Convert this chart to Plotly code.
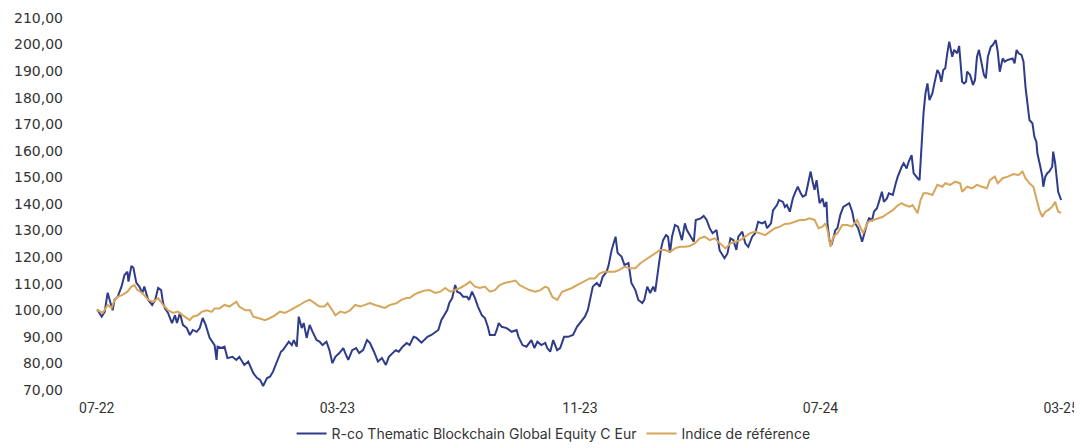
import plotly.graph_objects as go

fund_dates = [
"2022-07-01","2022-07-02","2022-07-06","2022-07-09","2022-07-12","2022-07-15","2022-07-17","2022-07-19","2022-07-22","2022-07-26","2022-07-29",
"2022-08-01","2022-08-02","2022-08-05","2022-08-07","2022-08-10","2022-08-13","2022-08-16","2022-08-18","2022-08-22","2022-08-26","2022-08-29",
"2022-09-01","2022-09-04","2022-09-06","2022-09-08","2022-09-11","2022-09-15","2022-09-18","2022-09-20","2022-09-23","2022-09-26","2022-09-30",
"2022-10-03","2022-10-06","2022-10-10","2022-10-13","2022-10-16","2022-10-19","2022-10-23","2022-10-28","2022-10-30","2022-10-31",
"2022-11-04","2022-11-07","2022-11-10","2022-11-15","2022-11-19","2022-11-22","2022-11-27",
"2022-12-01","2022-12-06","2022-12-10","2022-12-13","2022-12-16","2022-12-20","2022-12-23","2022-12-26","2022-12-28","2022-12-31",
"2023-01-03","2023-01-05","2023-01-09","2023-01-11","2023-01-14","2023-01-16","2023-01-19","2023-01-21","2023-01-24","2023-01-26","2023-01-29",
"2023-02-01","2023-02-04","2023-02-08","2023-02-11","2023-02-14","2023-02-18","2023-02-21","2023-02-24","2023-02-27",
"2023-03-03","2023-03-07","2023-03-09","2023-03-12","2023-03-16","2023-03-20","2023-03-23","2023-03-27","2023-03-31",
"2023-04-03","2023-04-07","2023-04-11","2023-04-15","2023-04-19","2023-04-22","2023-04-26","2023-04-29",
"2023-05-02","2023-05-06","2023-05-10","2023-05-13","2023-05-17","2023-05-20","2023-05-25","2023-05-28","2023-05-31",
"2023-06-04","2023-06-08","2023-06-11","2023-06-14","2023-06-16","2023-06-20","2023-06-22","2023-06-25","2023-06-28","2023-06-30",
"2023-07-03","2023-07-06","2023-07-10","2023-07-12","2023-07-15","2023-07-18","2023-07-21","2023-07-25","2023-07-28","2023-07-31",
"2023-08-02","2023-08-07","2023-08-09","2023-08-11","2023-08-14","2023-08-19","2023-08-24","2023-08-29","2023-08-31",
"2023-09-04","2023-09-08","2023-09-13","2023-09-16","2023-09-19","2023-09-23","2023-09-27","2023-09-29",
"2023-10-02","2023-10-05","2023-10-09","2023-10-12","2023-10-16","2023-10-20","2023-10-25","2023-10-29",
"2023-11-01","2023-11-06","2023-11-09","2023-11-12","2023-11-14","2023-11-18","2023-11-21","2023-11-24","2023-11-28","2023-11-30",
"2023-12-03","2023-12-07","2023-12-09","2023-12-13","2023-12-16","2023-12-20","2023-12-23","2023-12-27","2023-12-30",
"2024-01-03","2024-01-05","2024-01-08","2024-01-11","2024-01-14","2024-01-16","2024-01-19","2024-01-22","2024-01-24","2024-01-27","2024-01-29","2024-01-31",
"2024-02-02","2024-02-05","2024-02-08","2024-02-11","2024-02-12","2024-02-15","2024-02-17","2024-02-21","2024-02-24","2024-02-26",
"2024-03-02","2024-03-05","2024-03-08","2024-03-11","2024-03-14","2024-03-18","2024-03-21","2024-03-26","2024-03-29",
"2024-04-01","2024-04-04","2024-04-07","2024-04-09","2024-04-13","2024-04-16","2024-04-19","2024-04-23","2024-04-26","2024-04-29",
"2024-05-03","2024-05-06","2024-05-08","2024-05-12","2024-05-14","2024-05-18","2024-05-20","2024-05-24","2024-05-26","2024-05-28","2024-05-31",
"2024-06-03","2024-06-05","2024-06-08","2024-06-11","2024-06-13","2024-06-16","2024-06-18","2024-06-21","2024-06-23","2024-06-25","2024-06-27","2024-06-30",
"2024-07-03","2024-07-05","2024-07-07","2024-07-08","2024-07-10","2024-07-12","2024-07-14","2024-07-16","2024-07-18","2024-07-21","2024-07-24","2024-07-27","2024-07-30",
"2024-08-02","2024-08-04","2024-08-06","2024-08-08","2024-08-12","2024-08-14","2024-08-17","2024-08-19","2024-08-22","2024-08-24","2024-08-27","2024-08-29",
"2024-09-01","2024-09-03","2024-09-06","2024-09-08","2024-09-12","2024-09-15","2024-09-17","2024-09-21","2024-09-23","2024-09-26","2024-09-28",
"2024-10-01","2024-10-03","2024-10-07","2024-10-09","2024-10-11","2024-10-13","2024-10-15","2024-10-17","2024-10-19","2024-10-22","2024-10-24","2024-10-27","2024-10-29","2024-10-31",
"2024-11-02","2024-11-04","2024-11-06","2024-11-08","2024-11-11","2024-11-13","2024-11-16","2024-11-18","2024-11-21","2024-11-23","2024-11-25","2024-11-26","2024-11-29",
"2024-12-02","2024-12-04","2024-12-06","2024-12-08","2024-12-11","2024-12-13","2024-12-15","2024-12-17","2024-12-20","2024-12-22","2024-12-25","2024-12-27","2024-12-29",
"2025-01-01","2025-01-03","2025-01-06","2025-01-11","2025-01-13","2025-01-15","2025-01-17","2025-01-20","2025-01-22","2025-01-24","2025-01-26","2025-01-28","2025-01-31",
"2025-02-02","2025-02-04","2025-02-05","2025-02-08","2025-02-10","2025-02-11","2025-02-13","2025-02-15","2025-02-17","2025-02-20","2025-02-21","2025-02-23","2025-02-25","2025-02-26",
"2025-03-01",
]
fund_values = [
100.0,100.0,97.6,99.4,106.6,102.7,100.0,104.0,105.0,108.9,113.3,
114.5,110.8,116.7,116.0,110.3,108.9,106.5,108.9,103.9,102.0,103.9,
108.4,107.6,102.7,100.7,99.0,95.2,98.1,95.2,99.0,94.5,93.3,
90.7,92.6,91.9,93.3,97.1,94.5,89.6,86.9,81.3,86.3,
85.8,86.3,82.0,82.5,81.3,82.5,79.4,
80.7,76.4,74.5,73.8,71.5,74.5,75.0,76.9,78.8,82.0,
84.4,85.0,86.9,88.2,86.9,88.8,86.3,97.6,93.3,95.2,89.6,
94.5,91.9,88.8,88.2,86.9,88.2,85.0,80.1,82.5,
83.9,85.8,83.9,81.3,85.0,85.8,83.9,85.0,88.8,
87.7,84.4,80.7,82.0,79.4,82.5,83.9,85.0,
84.4,86.3,87.7,86.9,90.0,89.6,87.8,88.8,90.0,
90.7,91.9,92.6,96.3,97.6,100.1,102.7,104.6,109.5,107.0,
106.5,105.1,105.1,103.9,107.0,104.6,101.4,98.1,97.1,93.8,
90.7,90.7,92.6,95.2,93.8,93.3,91.9,92.6,90.0,
86.9,86.3,88.8,85.8,88.2,86.9,87.7,85.8,
84.4,88.8,85.0,85.8,90.0,90.0,90.7,93.8,
95.2,97.6,100.1,105.1,108.9,110.3,108.9,112.6,114.5,117.0,
122.6,127.7,121.6,120.2,117.0,117.8,110.3,107.6,103.9,
102.7,103.9,108.9,106.5,108.9,107.0,115.2,123.3,126.4,128.3,127.7,121.6,
127.7,132.1,131.5,127.7,126.4,132.7,130.2,127.7,125.8,134.0,
134.6,135.5,134.0,130.9,129.0,130.2,122.6,119.6,121.4,
127.1,126.4,122.7,127.7,129.6,125.2,123.9,127.7,129.0,133.3,
132.7,133.3,130.9,132.7,137.6,139.6,141.5,140.8,138.9,139.6,137.1,
142.1,144.0,146.5,144.0,142.8,143.4,146.5,152.2,148.4,145.3,149.0,140.3,
142.1,138.9,140.8,132.7,126.4,124.6,127.1,130.2,130.9,135.9,138.9,139.6,140.3,
137.1,133.3,132.1,130.9,125.8,129.0,132.7,134.6,133.9,137.1,138.4,140.8,
144.6,140.8,142.1,144.0,143.4,147.8,150.3,154.0,155.3,153.4,155.9,
158.4,151.6,149.7,149.0,161.6,174.1,181.7,185.4,179.1,181.7,185.4,190.4,189.2,186.0,
190.4,191.1,196.7,201.1,195.4,198.0,196.7,199.5,186.0,185.4,186.0,189.8,188.6,
184.8,186.7,195.4,198.0,191.7,188.6,187.3,195.4,199.2,199.8,201.7,197.3,189.8,
194.8,193.6,194.2,194.8,192.9,198.0,196.7,196.1,193.6,184.1,176.6,171.6,170.4,
165.3,163.4,159.1,154.0,150.3,146.5,150.3,151.6,152.2,154.0,159.7,155.3,149.0,144.6,
141.5,
]

index_dates = [
"2022-07-01","2022-07-02","2022-07-07","2022-07-12","2022-07-16","2022-07-19","2022-07-22","2022-07-27",
"2022-08-01","2022-08-05","2022-08-08","2022-08-11","2022-08-16","2022-08-22","2022-08-27",
"2022-09-01","2022-09-06","2022-09-11","2022-09-16","2022-09-21","2022-09-26",
"2022-10-03","2022-10-06","2022-10-11","2022-10-15","2022-10-20","2022-10-25","2022-10-28",
"2022-11-02","2022-11-07","2022-11-12","2022-11-19","2022-11-22","2022-11-28",
"2022-12-03","2022-12-06","2022-12-11","2022-12-18","2022-12-23","2022-12-28",
"2023-01-02","2023-01-07","2023-01-12","2023-01-17","2023-01-22","2023-01-27",
"2023-02-01","2023-02-06","2023-02-11","2023-02-16","2023-02-19","2023-02-24","2023-02-27",
"2023-03-04","2023-03-09","2023-03-14","2023-03-19","2023-03-24","2023-03-29",
"2023-04-03","2023-04-08","2023-04-13","2023-04-18","2023-04-23","2023-04-30",
"2023-05-05","2023-05-10","2023-05-13","2023-05-18","2023-05-23","2023-05-28",
"2023-06-02","2023-06-08","2023-06-13","2023-06-18","2023-06-23","2023-06-28",
"2023-07-03","2023-07-08","2023-07-13","2023-07-18","2023-07-23","2023-07-28",
"2023-08-02","2023-08-07","2023-08-12","2023-08-17","2023-08-22","2023-08-28",
"2023-09-01","2023-09-06","2023-09-11","2023-09-17","2023-09-22","2023-09-27","2023-09-30",
"2023-10-04","2023-10-09","2023-10-14","2023-10-19","2023-10-24","2023-10-29",
"2023-11-01","2023-11-06","2023-11-11","2023-11-16","2023-11-21","2023-11-26",
"2023-12-01","2023-12-06","2023-12-11","2023-12-16","2023-12-22","2023-12-27",
"2024-01-01","2024-01-06","2024-01-11","2024-01-16","2024-01-21","2024-01-26","2024-01-31",
"2024-02-05","2024-02-10","2024-02-15","2024-02-20","2024-02-25",
"2024-03-01","2024-03-06","2024-03-11","2024-03-16","2024-03-21","2024-03-27",
"2024-04-01","2024-04-06","2024-04-11","2024-04-16","2024-04-21","2024-04-26",
"2024-05-01","2024-05-06","2024-05-11","2024-05-16","2024-05-21","2024-05-26","2024-05-31",
"2024-06-05","2024-06-10","2024-06-15","2024-06-20","2024-06-25","2024-06-29",
"2024-07-03","2024-07-06","2024-07-08","2024-07-11","2024-07-14","2024-07-18","2024-07-23","2024-07-28",
"2024-08-02","2024-08-07","2024-08-10","2024-08-13","2024-08-18","2024-08-23","2024-08-28",
"2024-09-02","2024-09-07","2024-09-12","2024-09-17","2024-09-21","2024-09-24","2024-09-29",
"2024-10-02","2024-10-07","2024-10-10","2024-10-13","2024-10-17","2024-10-22","2024-10-27",
"2024-11-01","2024-11-04","2024-11-09","2024-11-14","2024-11-19","2024-11-21","2024-11-26",
"2024-12-01","2024-12-06","2024-12-11","2024-12-16","2024-12-19","2024-12-24","2024-12-27",
"2025-01-01","2025-01-06","2025-01-12","2025-01-17","2025-01-21","2025-01-24","2025-01-28",
"2025-02-01","2025-02-04","2025-02-07","2025-02-10","2025-02-13","2025-02-16","2025-02-20","2025-02-23","2025-02-26",
"2025-03-01",
]
index_values = [
100.0,100.0,99.0,102.0,100.9,103.9,105.1,105.8,
107.0,108.9,109.5,107.6,106.5,103.9,103.2,
104.6,102.0,100.0,99.0,99.5,98.1,
96.3,97.6,98.1,99.4,100.0,99.4,100.7,
100.7,102.0,101.4,103.2,101.4,100.0,
100.0,97.6,97.1,96.3,97.1,98.1,
99.5,99.0,100.0,100.9,102.0,103.2,
104.0,102.7,101.4,101.4,102.7,100.0,98.1,
99.5,99.0,100.0,102.0,101.4,102.0,
102.7,102.0,101.4,100.9,102.0,102.7,
104.0,104.6,104.6,106.0,106.8,107.4,
107.6,106.5,107.0,108.4,107.0,107.6,
108.4,109.5,110.8,108.9,108.4,108.9,
107.0,107.6,109.5,110.3,110.8,111.2,
109.5,108.4,107.6,107.0,107.6,108.9,108.4,
105.1,103.9,107.0,107.6,108.4,109.5,
110.1,110.8,112.0,112.0,113.9,114.5,
114.5,114.5,115.2,116.4,115.8,115.8,
117.7,118.9,120.2,121.4,122.7,122.7,122.0,
123.3,123.9,123.9,124.2,125.2,
127.1,127.7,126.4,127.1,125.2,123.3,
125.2,125.8,126.4,127.7,129.0,129.6,
129.0,128.3,129.6,130.9,131.5,132.5,132.7,
133.3,134.0,134.0,134.6,134.0,130.9,
131.5,132.7,130.2,123.9,127.7,129.0,132.1,132.1,
131.5,134.0,131.5,129.0,133.3,134.0,134.6,
135.2,136.5,137.7,139.5,140.3,139.6,139.0,
139.6,136.5,141.5,144.0,144.0,143.4,147.2,
146.5,147.8,147.2,148.4,147.8,144.6,146.5,
145.9,147.2,146.5,145.9,149.0,150.3,147.8,
149.7,150.3,151.3,150.9,152.2,149.7,147.8,
146.5,141.5,137.7,135.2,137.1,137.7,139.0,140.8,137.1,
136.7,
]

y_ticks = [70, 80, 90, 100, 110, 120, 130, 140, 150, 160, 170, 180, 190, 200, 210]
y_tick_text = ["70,00", "80,00", "90,00", "100,00", "110,00", "120,00", "130,00", "140,00",
               "150,00", "160,00", "170,00", "180,00", "190,00", "200,00", "210,00"]
x_ticks = ["2022-07-01", "2023-03-01", "2023-11-01", "2024-07-01", "2025-03-01"]
x_tick_text = ["07-22", "03-23", "11-23", "07-24", "03-25"]

fund_name = "R-co Thematic Blockchain Global Equity C Eur"
index_name = "Indice de référence"

fig = go.Figure()
fig.add_trace(go.Scatter(x=fund_dates, y=fund_values, mode="lines", name=fund_name,
                         line=dict(color="#2E3C8A", width=2)))
fig.add_trace(go.Scatter(x=index_dates, y=index_values, mode="lines", name=index_name,
                         line=dict(color="#D6A65B", width=2)))

# the page adds an 8px body margin, so the figure is offset by 8px
fig.update_layout(
    width=1074, height=440,
    margin=dict(l=64, r=8, t=10, b=58, autoexpand=False),
    paper_bgcolor="white", plot_bgcolor="white",
    font=dict(family="DejaVu Sans", color="#333333"),
    showlegend=True,
    legend=dict(orientation="h", xref="container", yref="container",
                x=0.508, xanchor="center", y=0.032, yanchor="middle",
                font=dict(family="Inter", size=14, color="#333333"),
                itemwidth=30, tracegroupgap=0),
)
fig.update_xaxes(type="date", range=["2022-06-06", "2025-03-14"],
                 tickvals=x_ticks, ticktext=x_tick_text, automargin=False,
                 showgrid=False, zeroline=False, showline=False,
                 tickfont=dict(family="Roboto", size=14, color="#333333"),
                 ticks="", ticklabelstandoff=8)
fig.update_yaxes(range=[70, 210], tickvals=y_ticks, ticktext=y_tick_text, automargin=False,
                 showgrid=False, zeroline=False, showline=False,
                 tickfont=dict(family="DejaVu Sans", size=14, color="#333333"),
                 ticks="", ticklabelstandoff=8)

fig.write_html("out.html")
